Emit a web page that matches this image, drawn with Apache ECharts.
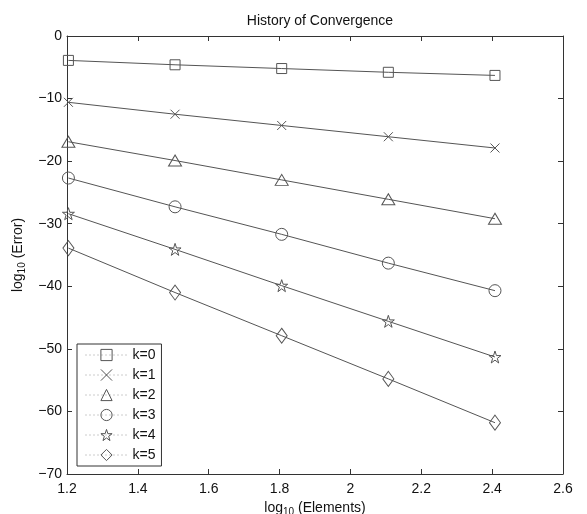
<!DOCTYPE html>
<html>
<head>
<meta charset="utf-8">
<script src="https://cdn.jsdelivr.net/npm/echarts@6/dist/echarts.min.js"></script>
<style>
  html, body { margin: 0; padding: 0; background: #fff; }
  #chart { width: 587px; height: 514px; }
</style>
</head>
<body>
<div id="chart"></div>
<script>
// log10 of element counts
const xVals = [1.204, 1.505, 1.806, 2.107, 2.408]
const seriesNames = ['k=0', 'k=1', 'k=2', 'k=3', 'k=4', 'k=5']
const k0 = [-3.9, -4.6, -5.2, -5.8, -6.3]
const k1 = [-10.6, -12.5, -14.3, -16.1, -17.9]
const k2 = [-16.9, -19.9, -23.0, -26.1, -29.2]
const k3 = [-22.7, -27.3, -31.7, -36.3, -40.7]
const k4 = [-28.4, -34.1, -39.9, -45.6, -51.3]
const k5 = [-33.9, -41.0, -47.9, -54.8, -61.8]
const xTicks = [1.2, 1.4, 1.6, 1.8, 2, 2.2, 2.4, 2.6]
const yTicks = [0, -10, -20, -30, -40, -50, -60, -70]

const values = [k0, k1, k2, k3, k4, k5]
const symbols = [
  'rect',
  'path://M0,0L10,10M10,0L0,10',
  'triangle',
  'circle',
  'path://M50,0L61.8,35.5L99,35.5L69,57.5L80.5,93L50,71L19.5,93L31,57.5L1,35.5L38.2,35.5Z',
  'diamond'
]
const sizes = [[10, 10], [9, 9], [13, 11], [12, 12], [12, 12], [11, 15]]

const lineColor = '#555'
const axisColor = '#333'
const fontFam = 'Liberation Sans, Arial, sans-serif'
const minus = v => String(v).replace('-', '\u2212')

let myChart = echarts.init(document.getElementById('chart'))

const axisBase = {
  type: 'value',
  axisLine: { show: true, onZero: false, lineStyle: { color: axisColor, width: 1 } },
  axisTick: { show: true, inside: true, length: 5, lineStyle: { color: axisColor } },
  splitLine: { show: false }
}

let option = {
  animation: false,
  backgroundColor: '#fff',
  title: {
    text: 'History of Convergence',
    left: 315,
    textAlign: 'center',
    top: 9,
    textStyle: { fontFamily: fontFam, fontSize: 14, fontWeight: 'normal', color: '#111' }
  },
  grid: { left: 67, right: 24, top: 36, bottom: 40, containLabel: false, outerBoundsMode: 'none' },
  legend: {
    orient: 'vertical',
    left: 77,
    top: 344,
    padding: [4, 6, 4, 8],
    itemGap: 6,
    itemWidth: 42,
    itemHeight: 14,
    borderColor: axisColor,
    borderWidth: 1,
    backgroundColor: '#fff',
    lineStyle: { type: [1, 3], color: '#999', width: 1 },
    itemStyle: { color: 'rgba(0,0,0,0)', borderColor: lineColor, borderWidth: 1 },
    textStyle: { fontFamily: fontFam, fontSize: 14, color: '#111' },
    data: seriesNames
  },
  xAxis: [
    Object.assign({}, axisBase, {
      min: 1.2, max: 2.6, interval: 0.2,
      axisLabel: { color: '#111', fontFamily: fontFam, fontSize: 14, margin: 8 },
      name: '{a|log}{s|10}{a| (Elements)}',
      nameLocation: 'middle',
      nameGap: 25,
      nameTextStyle: {
        rich: {
          a: { fontFamily: fontFam, fontSize: 14, color: '#111' },
          s: { fontFamily: fontFam, fontSize: 10, color: '#111', padding: [8, 0, 0, 0] }
        }
      }
    }),
    Object.assign({}, axisBase, {
      position: 'top', min: 1.2, max: 2.6, interval: 0.2,
      axisLabel: { show: false }
    })
  ],
  yAxis: [
    Object.assign({}, axisBase, {
      min: -70, max: 0, interval: 10,
      axisLabel: { color: '#111', fontFamily: fontFam, fontSize: 14, margin: 5, formatter: minus },
      name: '{a|log}{s|10}{a| (Error)}',
      nameLocation: 'middle',
      nameRotate: 90,
      nameGap: 30,
      nameTextStyle: {
        rich: {
          a: { fontFamily: fontFam, fontSize: 14, color: '#111' },
          s: { fontFamily: fontFam, fontSize: 10, color: '#111', padding: [8, 0, 0, 0] }
        }
      }
    }),
    Object.assign({}, axisBase, {
      position: 'right', min: -70, max: 0, interval: 10,
      axisLabel: { show: false }
    })
  ],
  series: values.map((vals, i) => ({
    name: seriesNames[i],
    type: 'line',
    data: vals.map((v, j) => [xVals[j], v]),
    symbol: symbols[i],
    symbolSize: sizes[i],
    showSymbol: true,
    lineStyle: { color: lineColor, width: 1 },
    itemStyle: { color: 'rgba(0,0,0,0)', borderColor: lineColor, borderWidth: 1 },
    emphasis: { disabled: true },
    z: 3
  }))
}
myChart.setOption(option)
</script>
</body>
</html>
